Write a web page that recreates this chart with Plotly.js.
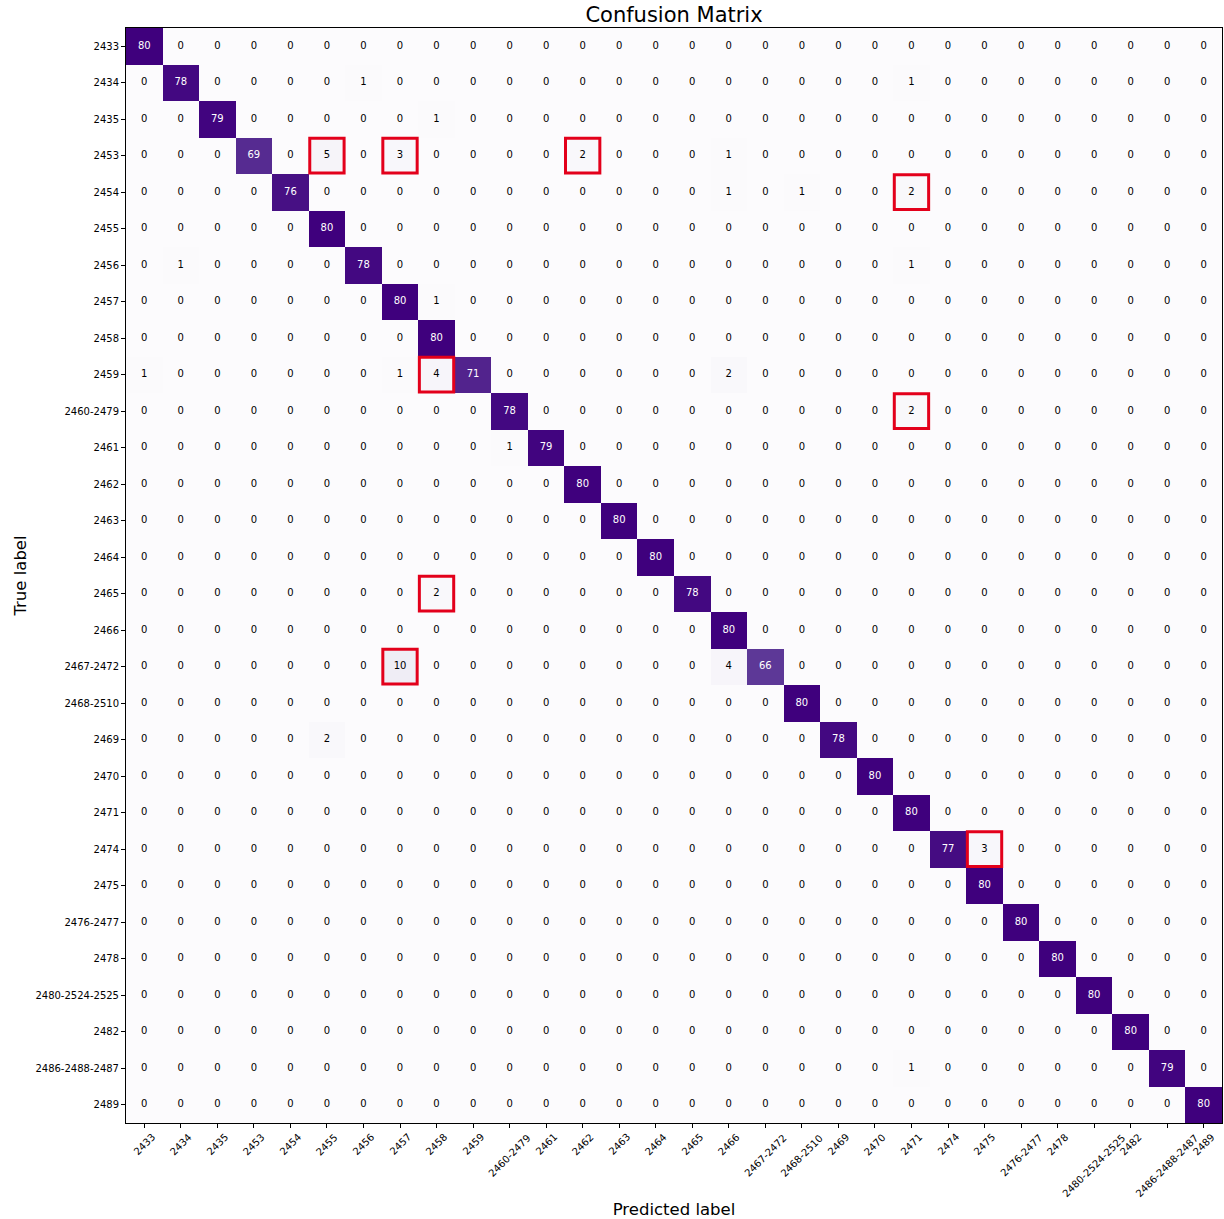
<!DOCTYPE html>
<html>
<head>
<meta charset="utf-8">
<script src="https://cdn.plot.ly/plotly-3.0.1.min.js"></script>
<style>html,body{margin:0;padding:0;background:#fff;}#chart{width:1224px;height:1219px;}</style>
</head>
<body>
<div id="chart"></div>
<script>
// Class labels (true = rows, predicted = columns)
const labels = ['2433','2434','2435','2453','2454','2455','2456','2457','2458','2459',
  '2460-2479','2461','2462','2463','2464','2465','2466','2467-2472','2468-2510','2469',
  '2470','2471','2474','2475','2476-2477','2478','2480-2524-2525','2482','2486-2488-2487','2489'];

// Confusion matrix rows (counts), one array per true label
const row_2433 = [80,0,0,0,0,0,0,0,0,0, 0,0,0,0,0,0,0,0,0,0, 0,0,0,0,0,0,0,0,0,0];
const row_2434 = [0,78,0,0,0,0,1,0,0,0, 0,0,0,0,0,0,0,0,0,0, 0,1,0,0,0,0,0,0,0,0];
const row_2435 = [0,0,79,0,0,0,0,0,1,0, 0,0,0,0,0,0,0,0,0,0, 0,0,0,0,0,0,0,0,0,0];
const row_2453 = [0,0,0,69,0,5,0,3,0,0, 0,0,2,0,0,0,1,0,0,0, 0,0,0,0,0,0,0,0,0,0];
const row_2454 = [0,0,0,0,76,0,0,0,0,0, 0,0,0,0,0,0,1,0,1,0, 0,2,0,0,0,0,0,0,0,0];
const row_2455 = [0,0,0,0,0,80,0,0,0,0, 0,0,0,0,0,0,0,0,0,0, 0,0,0,0,0,0,0,0,0,0];
const row_2456 = [0,1,0,0,0,0,78,0,0,0, 0,0,0,0,0,0,0,0,0,0, 0,1,0,0,0,0,0,0,0,0];
const row_2457 = [0,0,0,0,0,0,0,80,1,0, 0,0,0,0,0,0,0,0,0,0, 0,0,0,0,0,0,0,0,0,0];
const row_2458 = [0,0,0,0,0,0,0,0,80,0, 0,0,0,0,0,0,0,0,0,0, 0,0,0,0,0,0,0,0,0,0];
const row_2459 = [1,0,0,0,0,0,0,1,4,71, 0,0,0,0,0,0,2,0,0,0, 0,0,0,0,0,0,0,0,0,0];
const row_2460_2479 = [0,0,0,0,0,0,0,0,0,0, 78,0,0,0,0,0,0,0,0,0, 0,2,0,0,0,0,0,0,0,0];
const row_2461 = [0,0,0,0,0,0,0,0,0,0, 1,79,0,0,0,0,0,0,0,0, 0,0,0,0,0,0,0,0,0,0];
const row_2462 = [0,0,0,0,0,0,0,0,0,0, 0,0,80,0,0,0,0,0,0,0, 0,0,0,0,0,0,0,0,0,0];
const row_2463 = [0,0,0,0,0,0,0,0,0,0, 0,0,0,80,0,0,0,0,0,0, 0,0,0,0,0,0,0,0,0,0];
const row_2464 = [0,0,0,0,0,0,0,0,0,0, 0,0,0,0,80,0,0,0,0,0, 0,0,0,0,0,0,0,0,0,0];
const row_2465 = [0,0,0,0,0,0,0,0,2,0, 0,0,0,0,0,78,0,0,0,0, 0,0,0,0,0,0,0,0,0,0];
const row_2466 = [0,0,0,0,0,0,0,0,0,0, 0,0,0,0,0,0,80,0,0,0, 0,0,0,0,0,0,0,0,0,0];
const row_2467_2472 = [0,0,0,0,0,0,0,10,0,0, 0,0,0,0,0,0,4,66,0,0, 0,0,0,0,0,0,0,0,0,0];
const row_2468_2510 = [0,0,0,0,0,0,0,0,0,0, 0,0,0,0,0,0,0,0,80,0, 0,0,0,0,0,0,0,0,0,0];
const row_2469 = [0,0,0,0,0,2,0,0,0,0, 0,0,0,0,0,0,0,0,0,78, 0,0,0,0,0,0,0,0,0,0];
const row_2470 = [0,0,0,0,0,0,0,0,0,0, 0,0,0,0,0,0,0,0,0,0, 80,0,0,0,0,0,0,0,0,0];
const row_2471 = [0,0,0,0,0,0,0,0,0,0, 0,0,0,0,0,0,0,0,0,0, 0,80,0,0,0,0,0,0,0,0];
const row_2474 = [0,0,0,0,0,0,0,0,0,0, 0,0,0,0,0,0,0,0,0,0, 0,0,77,3,0,0,0,0,0,0];
const row_2475 = [0,0,0,0,0,0,0,0,0,0, 0,0,0,0,0,0,0,0,0,0, 0,0,0,80,0,0,0,0,0,0];
const row_2476_2477 = [0,0,0,0,0,0,0,0,0,0, 0,0,0,0,0,0,0,0,0,0, 0,0,0,0,80,0,0,0,0,0];
const row_2478 = [0,0,0,0,0,0,0,0,0,0, 0,0,0,0,0,0,0,0,0,0, 0,0,0,0,0,80,0,0,0,0];
const row_2480_2524_2525 = [0,0,0,0,0,0,0,0,0,0, 0,0,0,0,0,0,0,0,0,0, 0,0,0,0,0,0,80,0,0,0];
const row_2482 = [0,0,0,0,0,0,0,0,0,0, 0,0,0,0,0,0,0,0,0,0, 0,0,0,0,0,0,0,80,0,0];
const row_2486_2488_2487 = [0,0,0,0,0,0,0,0,0,0, 0,0,0,0,0,0,0,0,0,0, 0,1,0,0,0,0,0,0,79,0];
const row_2489 = [0,0,0,0,0,0,0,0,0,0, 0,0,0,0,0,0,0,0,0,0, 0,0,0,0,0,0,0,0,0,80];

const matrix = [row_2433,row_2434,row_2435,row_2453,row_2454,row_2455,row_2456,row_2457,row_2458,row_2459,
  row_2460_2479,row_2461,row_2462,row_2463,row_2464,row_2465,row_2466,row_2467_2472,row_2468_2510,row_2469,
  row_2470,row_2471,row_2474,row_2475,row_2476_2477,row_2478,row_2480_2524_2525,row_2482,row_2486_2488_2487,row_2489];

// Highlighted cells (red boxes): [true label, predicted label]
const highlighted = [['2453','2455'],['2453','2457'],['2453','2462'],['2454','2471'],['2459','2458'],
  ['2460-2479','2471'],['2465','2458'],['2467-2472','2457'],['2474','2475']];

// matplotlib "Purples"
const purples = [[0,'#fcfbfd'],[0.125,'#efedf5'],[0.25,'#dadaeb'],[0.375,'#bcbddc'],[0.5,'#9e9ac8'],
  [0.625,'#807dba'],[0.75,'#6a51a3'],[0.875,'#54278f'],[1,'#3f007d']];

let zmax = 0;
matrix.forEach(r => r.forEach(v => { if (v > zmax) zmax = v; }));
const thresh = zmax / 2;

const tx = [], ty = [], tt = [], tc = [];
matrix.forEach((r, i) => r.forEach((v, j) => {
  tx.push(labels[j]); ty.push(labels[i]); tt.push(String(v));
  tc.push(v > thresh ? '#ffffff' : '#000000');
}));

const FONT = 'DejaVu Sans, sans-serif';

const heat = {
  type: 'heatmap', z: matrix, x: labels, y: labels,
  colorscale: purples, zmin: 0, zmax: zmax, showscale: false, hoverinfo: 'skip'
};
const texts = {
  type: 'scatter', mode: 'text', x: tx, y: ty, text: tt,
  textfont: {family: FONT, size: 10, color: tc}, hoverinfo: 'skip', showlegend: false
};

const shapes = highlighted.map(([t, p]) => {
  const r = labels.indexOf(t), c = labels.indexOf(p);
  return {type: 'rect', xref: 'x', yref: 'y', x0: c - 0.47, x1: c + 0.47, y0: r - 0.48, y1: r + 0.47,
    line: {color: '#e3001b', width: 3}, fillcolor: 'rgba(0,0,0,0)'};
});

// rotated x tick labels, centred on their ticks (matplotlib style)
const annotations = labels.map((l, j) => ({
  x: j, y: 0, xref: 'x', yref: 'paper', text: l, showarrow: false,
  textangle: -45, xanchor: 'center', yanchor: 'top', yshift: -6,
  font: {family: FONT, size: 10, color: '#000'}
}));

const layout = {
  width: 1224, height: 1219,
  margin: {l: 126, r: 2, t: 28, b: 96},
  paper_bgcolor: '#fff', plot_bgcolor: '#fff',
  font: {family: FONT, color: '#000'},
  title: {text: 'Confusion Matrix', font: {family: FONT, size: 21, color: '#000'},
    x: 0.5, xref: 'paper', y: 1 - 15 / 1219, yref: 'container', yanchor: 'middle'},
  xaxis: {
    type: 'category', categoryorder: 'array', categoryarray: labels, range: [-0.5, 29.5],
    showticklabels: false, ticks: 'outside', ticklen: 4, tickcolor: '#000', tickwidth: 1,
    showline: true, linecolor: '#000', linewidth: 1, mirror: true, showgrid: false, zeroline: false,
    title: {text: 'Predicted label', font: {family: FONT, size: 16.5, color: '#000'}, standoff: 76}
  },
  yaxis: {
    type: 'category', categoryorder: 'array', categoryarray: labels, range: [29.5, -0.5],
    ticks: 'outside', ticklen: 4, tickcolor: '#000', tickwidth: 1,
    tickfont: {family: FONT, size: 10, color: '#000'},
    showline: true, linecolor: '#000', linewidth: 1, mirror: true, showgrid: false, zeroline: false,
    title: {text: 'True label', font: {family: FONT, size: 16.5, color: '#000'}, standoff: 4}
  },
  shapes: shapes,
  annotations: annotations,
  showlegend: false
};

Plotly.newPlot('chart', [heat, texts], layout, {displayModeBar: false, staticPlot: true});
</script>
</body>
</html>
